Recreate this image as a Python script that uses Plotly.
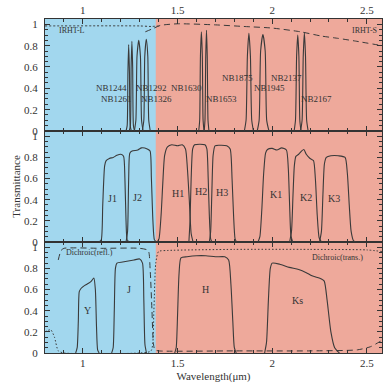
import plotly.graph_objects as go

# ---------------- data ----------------
# Top panel: narrow-band filters
nb_names = ["NB1244", "NB1261", "NB1292", "NB1326", "NB1630",
            "NB1653", "NB1875", "NB1945", "NB2137", "NB2167"]
nb_lam = [
    [1.228, 1.234, 1.238, 1.242, 1.246, 1.250, 1.256],
    [1.245, 1.251, 1.255, 1.259, 1.263, 1.267, 1.273],
    [1.272, 1.280, 1.286, 1.295, 1.304, 1.310, 1.318],
    [1.314, 1.322, 1.327, 1.335, 1.343, 1.348, 1.356],
    [1.612, 1.617, 1.621, 1.626, 1.631, 1.635, 1.640],
    [1.641, 1.645, 1.649, 1.653, 1.657, 1.661, 1.666],
    [1.853, 1.862, 1.869, 1.877, 1.885, 1.892, 1.901],
    [1.921, 1.931, 1.939, 1.951, 1.963, 1.971, 1.983],
    [2.116, 2.123, 2.129, 2.135, 2.141, 2.146, 2.152],
    [2.150, 2.158, 2.164, 2.170, 2.176, 2.182, 2.190],
]
nb_T = [
    [0, 0.05, 0.55, 0.81, 0.55, 0.05, 0],
    [0, 0.05, 0.60, 0.84, 0.60, 0.05, 0],
    [0, 0.10, 0.70, 0.85, 0.70, 0.10, 0],
    [0, 0.10, 0.70, 0.86, 0.70, 0.10, 0],
    [0, 0.10, 0.70, 0.93, 0.70, 0.10, 0],
    [0, 0.10, 0.70, 0.945, 0.70, 0.10, 0],
    [0, 0.10, 0.70, 0.915, 0.70, 0.10, 0],
    [0, 0.10, 0.75, 0.905, 0.75, 0.10, 0],
    [0, 0.10, 0.70, 0.90, 0.70, 0.10, 0],
    [0, 0.10, 0.70, 0.92, 0.70, 0.10, 0],
]
irhtL_lam = [0.80, 1.30, 1.36, 1.40]
irhtL_T = [0.985, 0.985, 0.98, 0.985]
irhtS_lam = [1.33, 1.37, 1.41, 1.50, 1.70, 1.85, 2.00, 2.15, 2.26, 2.35, 2.44, 2.58]
irhtS_T = [0.93, 0.96, 0.99, 1.005, 0.995, 0.98, 0.965, 0.93, 0.89, 0.868, 0.843, 0.80]

# Middle panel: broad-band filters
bb_names = ["J1", "J2", "H1", "H2", "H3", "K1", "K2", "K3"]
bb_lam = [
    [1.085, 1.097, 1.105, 1.115, 1.123, 1.14, 1.16, 1.18, 1.20, 1.215, 1.222, 1.228, 1.234, 1.245],
    [1.228, 1.236, 1.242, 1.248, 1.26, 1.29, 1.31, 1.34, 1.355, 1.362, 1.37, 1.378, 1.39],
    [1.392, 1.402, 1.413, 1.422, 1.432, 1.447, 1.47, 1.50, 1.525, 1.542, 1.552, 1.562, 1.572, 1.582],
    [1.560, 1.566, 1.572, 1.58, 1.59, 1.62, 1.645, 1.655, 1.662, 1.668, 1.675, 1.682],
    [1.668, 1.675, 1.681, 1.688, 1.698, 1.72, 1.76, 1.778, 1.788, 1.796, 1.804, 1.812],
    [1.925, 1.935, 1.945, 1.955, 1.965, 1.975, 2.0, 2.025, 2.05, 2.075, 2.085, 2.092, 2.099, 2.108],
    [2.092, 2.102, 2.110, 2.117, 2.125, 2.14, 2.155, 2.167, 2.18, 2.20, 2.218, 2.228, 2.238, 2.248, 2.26],
    [2.25, 2.26, 2.268, 2.276, 2.286, 2.31, 2.35, 2.385, 2.397, 2.407, 2.417, 2.43, 2.445],
]
bb_T = [
    [0, 0.02, 0.35, 0.72, 0.77, 0.79, 0.80, 0.82, 0.83, 0.81, 0.6, 0.2, 0.02, 0],
    [0, 0.1, 0.6, 0.84, 0.86, 0.87, 0.89, 0.88, 0.86, 0.6, 0.2, 0.02, 0],
    [0, 0.03, 0.25, 0.55, 0.82, 0.9, 0.92, 0.91, 0.92, 0.88, 0.7, 0.4, 0.08, 0],
    [0, 0.2, 0.6, 0.88, 0.92, 0.925, 0.92, 0.88, 0.6, 0.25, 0.03, 0],
    [0, 0.1, 0.45, 0.82, 0.91, 0.915, 0.91, 0.88, 0.6, 0.25, 0.03, 0],
    [0, 0.05, 0.3, 0.65, 0.84, 0.875, 0.885, 0.87, 0.89, 0.87, 0.7, 0.35, 0.06, 0],
    [0, 0.1, 0.45, 0.72, 0.81, 0.83, 0.86, 0.875, 0.83, 0.79, 0.77, 0.6, 0.25, 0.04, 0],
    [0, 0.1, 0.45, 0.74, 0.80, 0.815, 0.815, 0.80, 0.65, 0.35, 0.1, 0.01, 0],
]

# Bottom panel: standard filters and dichroic
std_names = ["Y", "J", "H", "Ks"]
std_lam = [
    [0.962, 0.970, 0.976, 0.981, 0.99, 1.01, 1.03, 1.045, 1.058, 1.066, 1.072, 1.078, 1.086],
    [1.152, 1.160, 1.166, 1.172, 1.18, 1.21, 1.24, 1.27, 1.30, 1.315, 1.322, 1.328, 1.336],
    [1.485, 1.493, 1.500, 1.508, 1.518, 1.55, 1.60, 1.65, 1.70, 1.75, 1.77, 1.782, 1.792, 1.80, 1.81],
    [1.960, 1.970, 1.980, 1.990, 2.0, 2.04, 2.09, 2.14, 2.18, 2.21, 2.26, 2.275, 2.29, 2.31, 2.33, 2.355],
]
std_T = [
    [0, 0.05, 0.3, 0.58, 0.61, 0.64, 0.66, 0.68, 0.71, 0.6, 0.25, 0.03, 0],
    [0, 0.05, 0.4, 0.8, 0.85, 0.86, 0.87, 0.88, 0.89, 0.85, 0.5, 0.08, 0],
    [0, 0.05, 0.35, 0.75, 0.9, 0.91, 0.92, 0.92, 0.91, 0.91, 0.88, 0.65, 0.3, 0.05, 0],
    [0, 0.1, 0.5, 0.8, 0.85, 0.84, 0.81, 0.79, 0.76, 0.73, 0.70, 0.68, 0.5, 0.2, 0.05, 0],
]
refl_lam = [0.87, 0.885, 0.90, 1.10, 1.30, 1.345, 1.355, 1.365, 1.372, 1.38, 1.40, 1.80, 2.20, 2.45, 2.52, 2.58]
refl_T = [0.88, 0.97, 0.99, 0.99, 0.99, 0.97, 0.8, 0.4, 0.1, 0.03, 0.02, 0.02, 0.02, 0.03, 0.06, 0.12]
trans_lam = [0.80, 0.83, 0.85, 0.87, 0.90, 1.30, 1.36, 1.375, 1.385, 1.40, 1.45, 1.80, 2.20, 2.50, 2.58]
trans_T = [0.20, 0.22, 0.15, 0.02, 0.0, 0.0, 0.02, 0.4, 0.85, 0.96, 0.97, 0.98, 0.98, 0.975, 0.96]

x_ticks = [1, 1.5, 2, 2.5]
x_ticktext = ["1", "1.5", "2", "2.5"]
y_ticks = [0, 0.2, 0.4, 0.6, 0.8, 1]
y_ticktext = ["0", "0.2", "0.4", "0.6", "0.8", "1"]

# ---------------- styling ----------------
FONT = "Liberation Serif"
INK = "#333333"
LINE = "#3a3a3a"
BLUE = "#a2d7ee"
SALMON = "#eea99b"
XR = [0.8, 2.58]
YR = [0, 1.05]
d1 = 114 / 343
d2 = 228 / 343

fig = go.Figure()

def curve(lam, T, ax, dash="solid", width=1.1):
    fig.add_trace(go.Scatter(
        x=lam, y=T, mode="lines", xaxis="x" + ax, yaxis="y" + ax,
        line=dict(color=LINE, width=width, dash=dash, shape="spline", smoothing=0.6),
        showlegend=False, hoverinfo="skip"))

# top panel -> axes "3"
for lam, T in zip(nb_lam, nb_T):
    curve(lam, T, "3")
curve(irhtL_lam, irhtL_T, "3", dash="2px,2px", width=1)
curve(irhtS_lam, irhtS_T, "3", dash="6px,4px", width=1)
# middle panel -> axes "2"
for lam, T in zip(bb_lam, bb_T):
    curve(lam, T, "2")
# bottom panel -> axes "" (x, y)
for lam, T in zip(std_lam, std_T):
    curve(lam, T, "")
curve(refl_lam, refl_T, "", dash="6px,4px", width=1)
curve(trans_lam, trans_T, "", dash="1.5px,2px", width=1)

def xaxis(anchor, side, show, title=None):
    d = dict(range=XR, anchor=anchor, side=side, showticklabels=show,
             tickmode="array", tickvals=x_ticks, ticktext=x_ticktext,
             ticks="inside", ticklen=5, tickwidth=1, tickcolor=INK,
             minor=dict(ticks="inside", ticklen=3, tickwidth=1, tickcolor=INK,
                        dtick=0.1, tick0=0.8, showgrid=False),
             showline=True, linecolor=INK, linewidth=1, mirror="allticks",
             showgrid=False, zeroline=False,
             tickfont=dict(family=FONT, size=11, color=INK))
    if anchor != "y":
        d["matches"] = "x"
    if title:
        d["title"] = dict(text=title, font=dict(family=FONT, size=11, color=INK), standoff=4)
    return d

def yaxis(anchor, domain, title=None):
    d = dict(range=YR, domain=domain, anchor=anchor,
             tickmode="array", tickvals=y_ticks, ticktext=y_ticktext,
             ticks="inside", ticklen=5, tickwidth=1, tickcolor=INK,
             minor=dict(ticks="inside", ticklen=3, tickwidth=1, tickcolor=INK,
                        dtick=0.05, tick0=0, showgrid=False),
             showline=True, linecolor=INK, linewidth=1, mirror="allticks",
             showgrid=False, zeroline=False, ticklabelstandoff=4,
             tickfont=dict(family=FONT, size=11, color=INK))
    if title:
        d["title"] = dict(text=title, font=dict(family=FONT, size=11, color=INK), standoff=1)
    return d

ann = []
def label(text, x, y, ax, size=9):
    ann.append(dict(text=text, x=x, y=y, xref="x" + ax, yref="y" + ax,
                    showarrow=False, font=dict(family=FONT, size=size, color=INK)))

nb_lx = [1.151, 1.177, 1.362, 1.391, 1.546, 1.730, 1.819, 1.988, 2.077, 2.235]
nb_ly = [0.40, 0.30, 0.40, 0.30, 0.40, 0.30, 0.50, 0.40, 0.50, 0.30]
for n, x, y in zip(nb_names, nb_lx, nb_ly):
    label(n, x, y, "3")
label("IRHT-L", 0.943, 0.94, "3", size=8)
label("IRHT-S", 2.485, 0.945, "3", size=8)

bb_lx = [1.158, 1.29, 1.50, 1.623, 1.737, 2.021, 2.176, 2.325]
bb_ly = [0.415, 0.42, 0.46, 0.48, 0.47, 0.45, 0.42, 0.41]
for n, x, y in zip(bb_names, bb_lx, bb_ly):
    label(n, x, y, "2", size=10)

std_lx = [1.026, 1.246, 1.65, 2.132]
std_ly = [0.40, 0.60, 0.60, 0.50]
for n, x, y in zip(std_names, std_lx, std_ly):
    label(n, x, y, "", size=10)
label("Dichroic(refl.)", 1.036, 0.95, "", size=8)
label("Dichroic(trans.)", 2.347, 0.905, "", size=8)

fig.update_layout(
    width=387, height=385,
    margin=dict(l=45, r=4, t=10, b=32),
    paper_bgcolor="white", plot_bgcolor=SALMON,
    showlegend=False,
    xaxis=xaxis("y", "bottom", True, "Wavelength(\u03bcm)"),
    xaxis2=xaxis("y2", "bottom", False),
    xaxis3=xaxis("y3", "top", True),
    yaxis=yaxis("x", [0, d1]),
    yaxis2=yaxis("x2", [d1, d2], "Transmittance"),
    yaxis3=yaxis("x3", [d2, 1]),
    annotations=ann,
    shapes=[dict(type="rect", xref="x", yref="paper", x0=0.8, x1=1.385, y0=0, y1=1,
                 fillcolor=BLUE, line=dict(width=0), layer="below")],
)

fig.write_html("out.html")
